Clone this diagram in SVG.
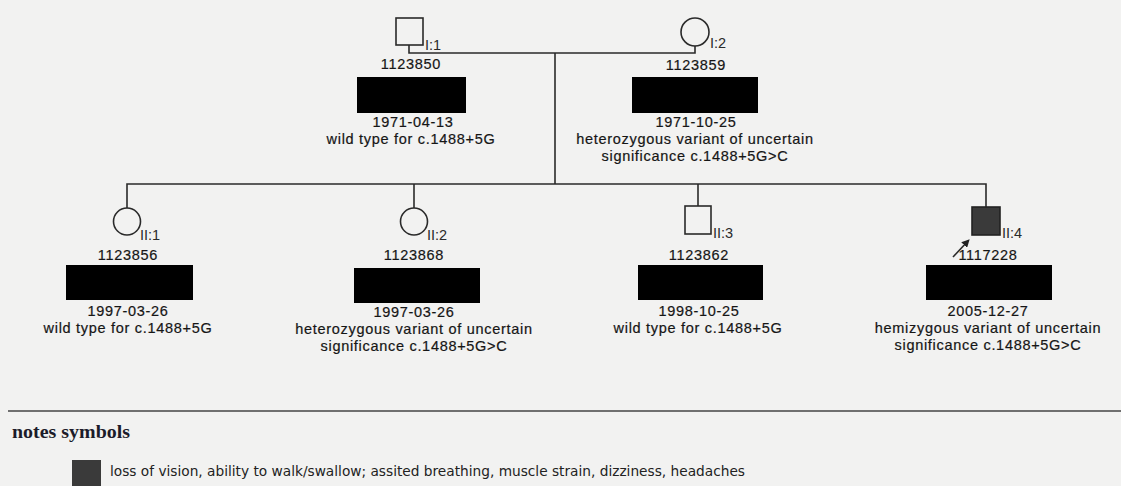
<svg xmlns="http://www.w3.org/2000/svg" width="1121" height="486" viewBox="0 0 1121 486">
  <defs>
    <style>
      .bg { fill: #f2f2f1; }
      .sym { fill: none; stroke: #2a2a2a; stroke-width: 1.6; }
      .aff { fill: #3a3a3a; stroke: #222; stroke-width: 1.6; }
      .ln { fill: none; stroke: #2a2a2a; stroke-width: 1.6; }
      .t { font-family: "Liberation Sans", Arial, sans-serif; font-size: 14.5px; letter-spacing: 0.7px; fill: #161616; stroke: #161616; stroke-width: 0.2px; text-anchor: middle; }
      .id { font-family: "Liberation Sans", Arial, sans-serif; font-size: 14.5px; fill: #2a2a2a; }
      .red { fill: #000; }
      .hd { font-family: "Liberation Serif", "Times New Roman", serif; font-size: 18px; font-weight: bold; fill: #1c1c2a; }
      .lg { font-family: "DejaVu Sans Condensed", "DejaVu Sans", sans-serif; font-size: 14.5px; fill: #222; }
    </style>
    <marker id="arr" viewBox="0 0 10 10" refX="7" refY="5" markerWidth="5" markerHeight="5" orient="auto">
      <path d="M0,0 L10,5 L0,10 z" fill="#222"/>
    </marker>
  </defs>
  <rect class="bg" x="0" y="0" width="1121" height="486"/>

  <g id="connectors">
    <path class="ln" d="M409,45 V53 H695 V46"/>
    <path class="ln" d="M555,53 V184"/>
    <path class="ln" d="M127,208 V184 H986 V207"/>
    <path class="ln" d="M414,184 V208"/>
    <path class="ln" d="M698,184 V206"/>
  </g>

  <g id="I1">
    <rect class="sym" x="396" y="18" width="27" height="27"/>
    <text class="id" x="425" y="50">I:1</text>
    <text class="t" x="411" y="69">1123850</text>
    <rect class="red" x="357" y="77" width="109" height="36"/>
    <text class="t" x="413" y="127">1971-04-13</text>
    <text class="t" x="411" y="144">wild type for c.1488+5G</text>
  </g>

  <g id="I2">
    <circle class="sym" cx="695" cy="32" r="14"/>
    <text class="id" x="710" y="48">I:2</text>
    <text class="t" x="696" y="70">1123859</text>
    <rect class="red" x="632" y="77" width="126" height="36"/>
    <text class="t" x="696" y="127">1971-10-25</text>
    <text class="t" x="695" y="144">heterozygous variant of uncertain</text>
    <text class="t" x="695" y="161">significance c.1488+5G&gt;C</text>
  </g>

  <g id="II1">
    <circle class="sym" cx="127" cy="221.5" r="13.5"/>
    <text class="id" x="140" y="240">II:1</text>
    <text class="t" x="128" y="260">1123856</text>
    <rect class="red" x="66" y="265" width="127" height="35"/>
    <text class="t" x="128" y="316">1997-03-26</text>
    <text class="t" x="128" y="333">wild type for c.1488+5G</text>
  </g>

  <g id="II2">
    <circle class="sym" cx="414" cy="221.5" r="13.5"/>
    <text class="id" x="427" y="240">II:2</text>
    <text class="t" x="414" y="260">1123868</text>
    <rect class="red" x="354" y="268" width="126" height="35"/>
    <text class="t" x="414" y="317">1997-03-26</text>
    <text class="t" x="414" y="334">heterozygous variant of uncertain</text>
    <text class="t" x="414" y="351">significance c.1488+5G&gt;C</text>
  </g>

  <g id="II3">
    <rect class="sym" x="685" y="206" width="26" height="28"/>
    <text class="id" x="713" y="238">II:3</text>
    <text class="t" x="699" y="260">1123862</text>
    <rect class="red" x="638" y="265" width="125" height="35"/>
    <text class="t" x="699" y="316">1998-10-25</text>
    <text class="t" x="698" y="333">wild type for c.1488+5G</text>
  </g>

  <g id="II4">
    <rect class="aff" x="972" y="207" width="28" height="28"/>
    <text class="id" x="1002" y="238">II:4</text>
    <line class="ln" x1="953" y1="257" x2="968" y2="241" stroke-width="2.4" marker-end="url(#arr)"/>
    <text class="t" x="988" y="260">1117228</text>
    <rect class="red" x="926" y="265" width="126" height="35"/>
    <text class="t" x="988" y="316">2005-12-27</text>
    <text class="t" x="988" y="333">hemizygous variant of uncertain</text>
    <text class="t" x="988" y="350">significance c.1488+5G&gt;C</text>
  </g>

  <g id="legend">
    <line x1="8" y1="411" x2="1121" y2="411" stroke="#444" stroke-width="1.5"/>
    <text class="hd" x="12" y="438" textLength="118" lengthAdjust="spacingAndGlyphs">notes symbols</text>
    <rect x="72" y="460" width="29" height="26" fill="#3a3a3a"/>
    <text class="lg" x="110" y="476" textLength="635" lengthAdjust="spacingAndGlyphs">loss of vision, ability to walk/swallow; assited breathing, muscle strain, dizziness, headaches</text>
  </g>
</svg>
